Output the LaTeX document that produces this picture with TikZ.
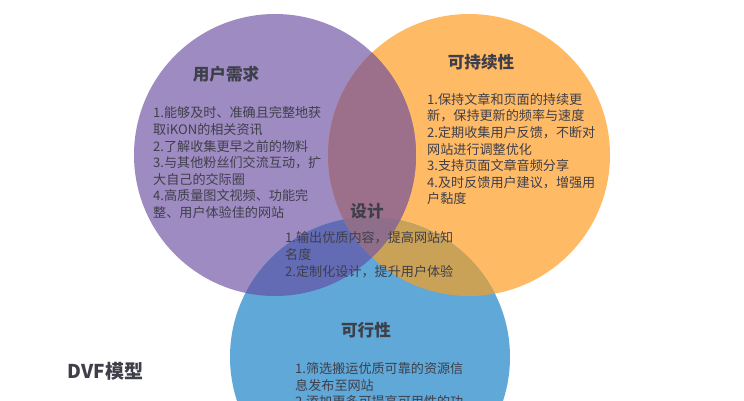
\documentclass[tikz,border=0pt]{standalone}
\usepackage{fontspec}
\setmainfont{Noto Sans CJK SC}
\definecolor{purplec}{HTML}{9E8BC2}
\definecolor{orangec}{HTML}{FFBA66}
\definecolor{bluec}{HTML}{5FA8D8}
\definecolor{purpleorange}{HTML}{9C708A}
\definecolor{purpleblue}{HTML}{626BB4}
\definecolor{orangeblue}{HTML}{C9A157}
\definecolor{allthree}{HTML}{8F6E8C}
\definecolor{textc}{HTML}{3F3F4A}
\tikzset{
    headtext/.style={text=textc,font=\fontsize{16.6}{20}\selectfont\bfseries,inner sep=0pt},
    bodytext/.style={text=textc,font=\fontsize{13.1}{16.6}\selectfont,align=left,anchor=north west,inner sep=0pt}
}
\begin{document}
\begin{tikzpicture}[x=1pt,y=-1pt]
    \useasboundingbox (0,0) rectangle (744,400);
    \clip (0,0) rectangle (744,400);

    \fill[purplec] (275,155) circle (141pt);
    \fill[orangec] (469,155) circle (141pt);
    \fill[bluec]   (370,357) circle (140pt);

    \begin{scope}
        \clip (275,155) circle (141pt);
        \fill[purpleorange] (469,155) circle (141pt);
        \fill[purpleblue] (370,357) circle (140pt);
    \end{scope}
    \begin{scope}
        \clip (469,155) circle (141pt);
        \fill[orangeblue] (370,357) circle (140pt);
        \clip (275,155) circle (141pt);
        \fill[purpleorange] (328,0) rectangle (417,300);
        \clip (370,357) circle (140pt);
        \fill[allthree] (328,0) rectangle (417,300);
    \end{scope}

    \node[headtext] (needhead) at (226,74) {用户需求};
    \node[bodytext] (needbody) at (153,106.5) {1.能够及时、准确且完整地获\\取iKON的相关资讯\\2.了解收集更早之前的物料\\3.与其他粉丝们交流互动，扩\\大自己的交际圈\\4.高质量图文视频、功能完\\整、用户体验佳的网站};

    \node[headtext] (keephead) at (481,62) {可持续性};
    \node[bodytext] (keepbody) at (427,93) {1.保持文章和页面的持续更\\新，保持更新的频率与速度\\2.定期收集用户反馈，不断对\\网站进行调整优化\\3.支持页面文章音频分享\\4.及时反馈用户建议，增强用\\户黏度};

    \node[headtext] (designhead) at (367,211) {设计};
    \node[bodytext] (designbody) at (285,231.5) {1.输出优质内容，提高网站知\\名度\\2.定制化设计，提升用户体验};

    \node[headtext] (dohead) at (366,330) {可行性};
    \node[bodytext] (dobody) at (295,362.5) {1.筛选搬运优质可靠的资源信\\息发布至网站\\2.添加更多可提高可用性的功};

    \node[text=textc,font=\fontsize{19}{22}\selectfont\bfseries,inner sep=0pt] (modelname) at (105.5,371) {DVF模型};
\end{tikzpicture}
\end{document}
